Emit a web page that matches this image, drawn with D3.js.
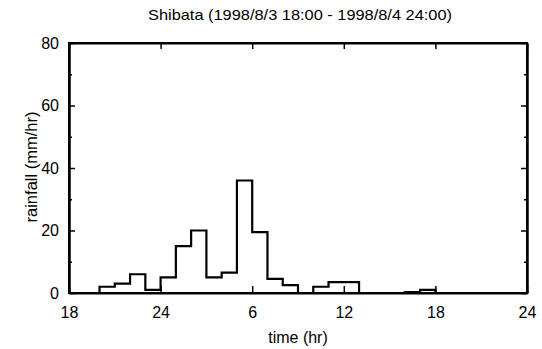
<!DOCTYPE html>
<html>
<head>
<meta charset="utf-8">
<script src="https://cdn.jsdelivr.net/npm/d3@7"></script>
<style>
  body { margin: 0; background: #fff; }
  svg { display: block; font-family: "Liberation Sans", Arial, sans-serif; }
</style>
</head>
<body>
<div id="chart"></div>
<script>
// hourly rainfall, hour 18 (day 1) .. hour 47 (day 2 23:00)
const hours = d3.range(18, 48);
const rainfall = [0, 0, 2, 3, 6, 1, 5, 15, 20, 5, 6.5, 36, 19.5, 4.5, 2.5, 0,
                  2, 3.5, 3.5, 0, 0, 0, 0.3, 1, 0, 0, 0, 0, 0, 0];
const xTicks = [18, 24, 30, 36, 42, 48];
const xTickLabels = ["18", "24", "6", "12", "18", "24"];
const yTicks = [0, 20, 40, 60, 80];
const yMinor = [10, 30, 50, 70];

const W = 542, H = 349;
const margin = { top: 43, right: 15, bottom: 56, left: 69 };
const width = W - margin.left - margin.right;
const height = H - margin.top - margin.bottom;

const svg = d3.select("#chart").append("svg")
    .attr("width", W)
    .attr("height", H);

const g = svg.append("g")
    .attr("transform", `translate(${margin.left},${margin.top})`);

const x = d3.scaleLinear().domain([18, 48]).range([0, width]);
const y = d3.scaleLinear().domain([0, 80]).range([height, 0]);

// step line
const pts = hours.map((h, i) => [h, rainfall[i]]);
pts.push([48, rainfall[rainfall.length - 1]]);

g.append("path")
    .datum(pts)
    .attr("fill", "none")
    .attr("stroke", "#000")
    .attr("stroke-width", 2.2)
    .attr("d", d3.line()
        .x(d => x(d[0]))
        .y(d => y(d[1]))
        .curve(d3.curveStepAfter));

// axes (ticks inward on all sides)
g.append("g")
    .attr("transform", `translate(0,${height})`)
    .call(d3.axisBottom(x).tickValues(xTicks)
        .tickFormat((d, i) => xTickLabels[i])
        .tickSizeInner(-7).tickSizeOuter(0).tickPadding(14));

g.append("g")
    .call(d3.axisTop(x).tickValues(xTicks).tickFormat("")
        .tickSizeInner(-6).tickSizeOuter(0));

g.append("g")
    .call(d3.axisLeft(y).tickValues(yTicks)
        .tickSizeInner(-6).tickSizeOuter(0).tickPadding(10));

g.append("g")
    .attr("transform", `translate(${width},0)`)
    .call(d3.axisRight(y).tickValues(yTicks).tickFormat("")
        .tickSizeInner(-6).tickSizeOuter(0));

// minor y ticks
g.append("g")
    .call(d3.axisLeft(y).tickValues(yMinor).tickFormat("")
        .tickSizeInner(-3).tickSizeOuter(0));
g.append("g")
    .attr("transform", `translate(${width},0)`)
    .call(d3.axisRight(y).tickValues(yMinor).tickFormat("")
        .tickSizeInner(-3).tickSizeOuter(0));

g.selectAll(".domain").attr("stroke", "#000").attr("stroke-width", 2);
g.selectAll(".tick line").attr("stroke", "#000").attr("stroke-width", 1.5);
g.selectAll(".tick text")
    .attr("fill", "#000")
    .style("font-size", "16px")
    .style("font-family", "'Liberation Sans', Arial, sans-serif");

// frame
g.append("rect")
    .attr("width", width)
    .attr("height", height)
    .attr("fill", "none")
    .attr("stroke", "#000")
    .attr("stroke-width", 2);

// titles
svg.append("text")
    .attr("x", 300)
    .attr("y", 20)
    .attr("text-anchor", "middle")
    .attr("textLength", 304)
    .attr("lengthAdjust", "spacingAndGlyphs")
    .style("font-size", "15px")
    .text("Shibata (1998/8/3 18:00 - 1998/8/4 24:00)");

svg.append("text")
    .attr("x", 298)
    .attr("y", 343)
    .attr("text-anchor", "middle")
    .style("font-size", "16px")
    .text("time (hr)");

svg.append("text")
    .attr("transform", "translate(37,167) rotate(-90)")
    .attr("text-anchor", "middle")
    .style("font-size", "16.5px")
    .text("rainfall (mm/hr)");
</script>
</body>
</html>
